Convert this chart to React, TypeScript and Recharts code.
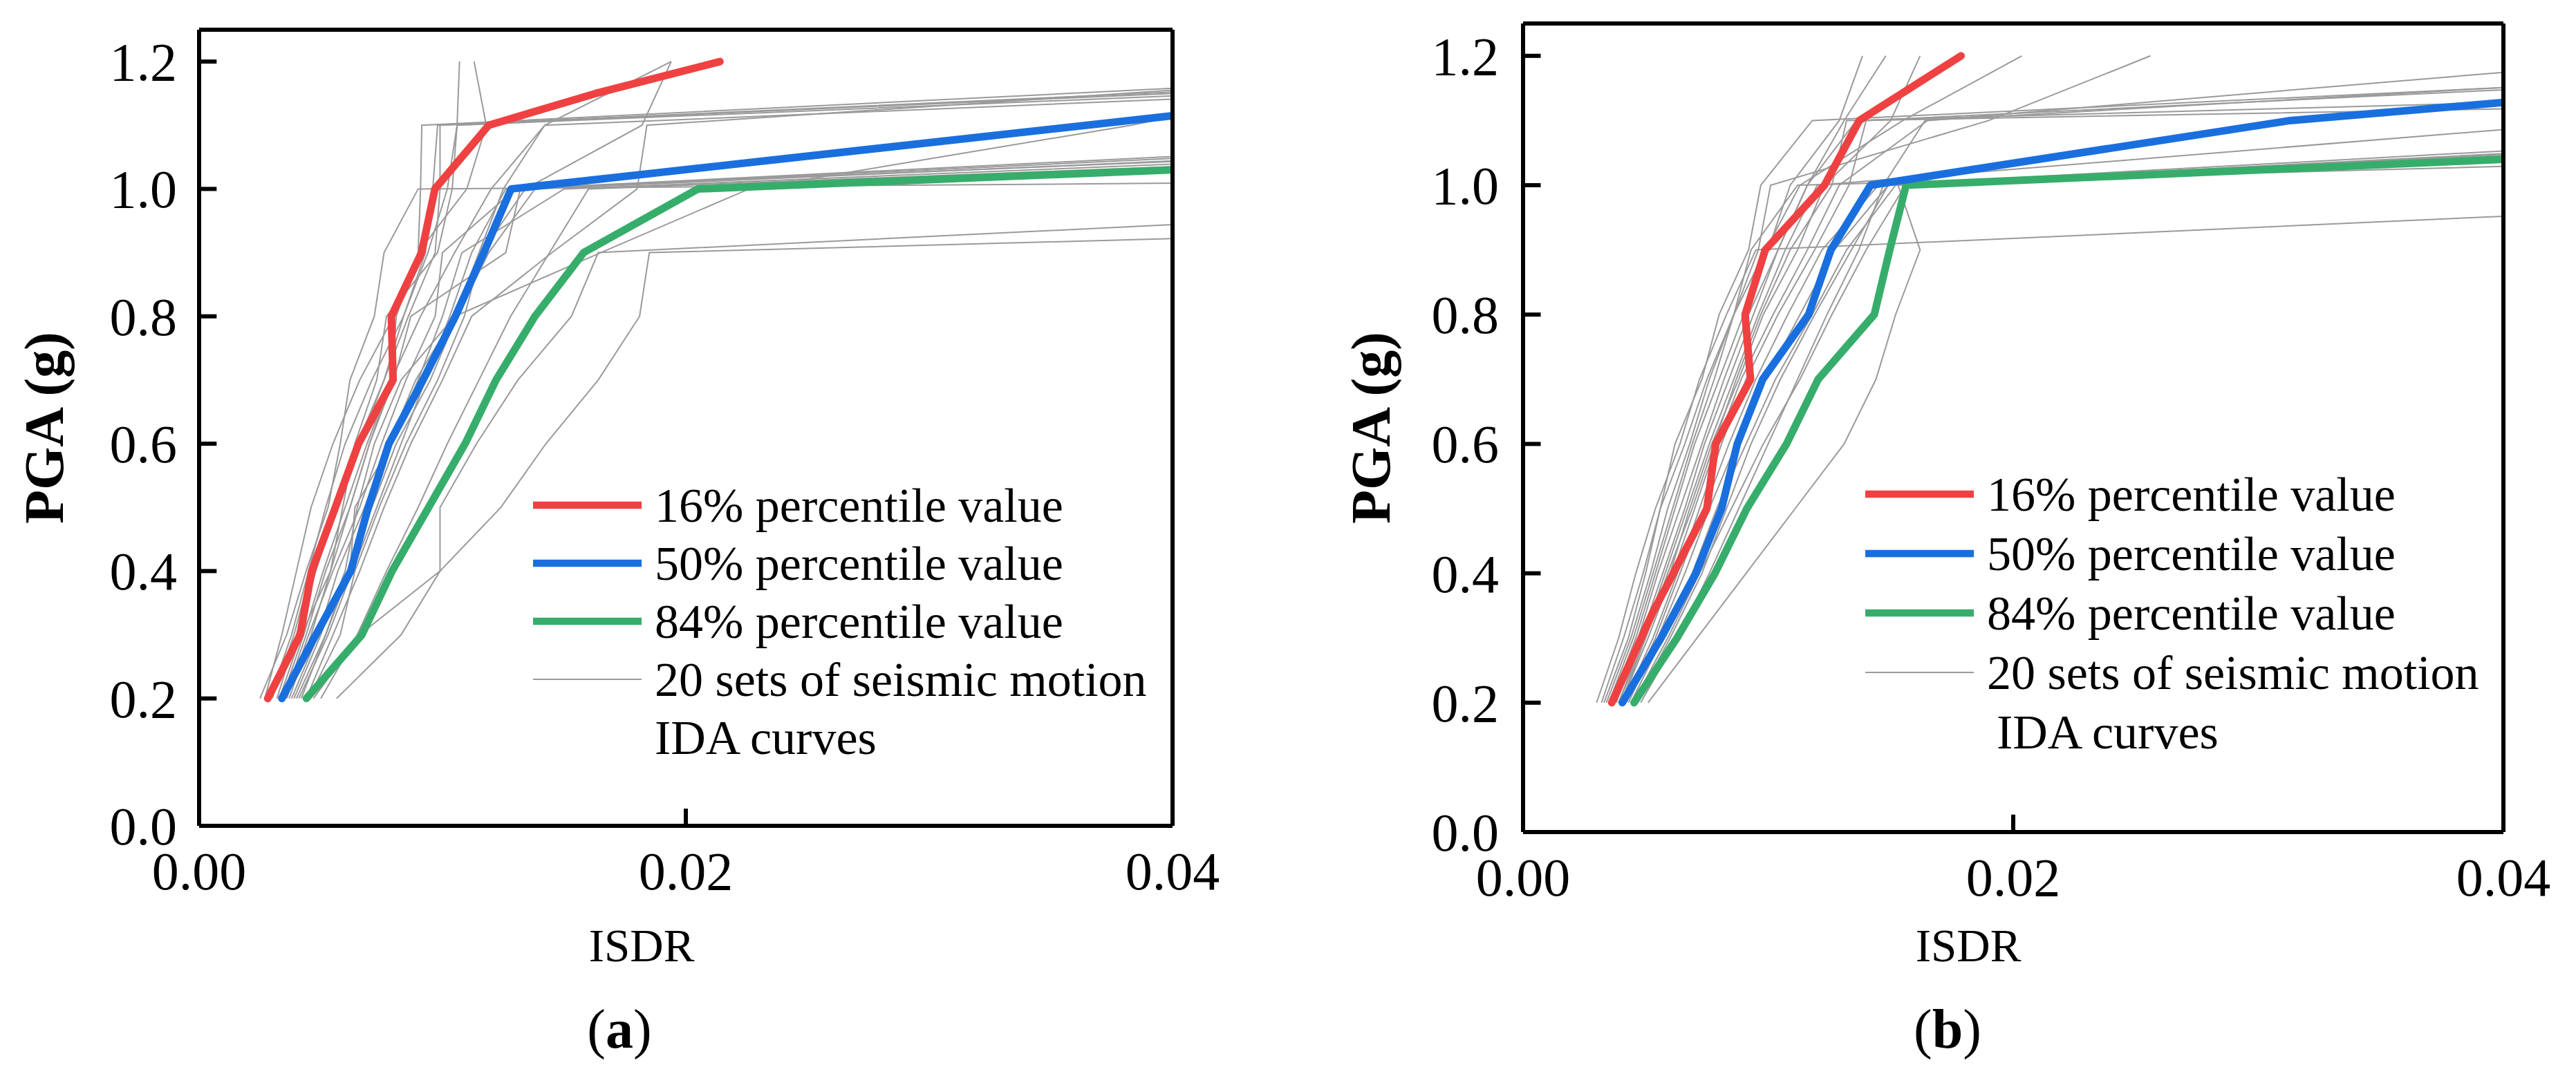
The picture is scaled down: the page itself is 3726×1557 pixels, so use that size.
import React from "react";
import { LineChart, Line, XAxis, YAxis, ReferenceLine } from "recharts";

const FONT = "'Liberation Serif'";

const RED = "#ef4141";
const BLUE = "#1a6fdf";
const GREEN = "#37ad6b";
const GRAY = "#9a9a9a";

// PGA levels of the IDA runs (g)
const PGA_LEVELS = [0.2, 0.3, 0.4, 0.5, 0.6, 0.7, 0.8, 0.9, 1.0, 1.1, 1.2];
const X_TICKS = [0, 0.02, 0.04];
const Y_TICKS = [0, 0.2, 0.4, 0.6, 0.8, 1.0, 1.2];
// tick marks drawn inside the frame (first/last x tick sit on the frame)
const X_INNER_TICKS = [0.02];
const Y_INNER_TICKS = [0.2, 0.4, 0.6, 0.8, 1.0, 1.2];

// ISDR values below are in per mille (‰)

// (a) percentile curves
const A_P16_X = [2.82, 4.15, 4.63, 5.6, 6.55, 7.97, 7.9, 9.14, 9.69, 11.9, 16.3, 21.4];
const A_P16_Y = [0.2, 0.3, 0.4, 0.5, 0.6, 0.7, 0.8, 0.9, 1.0, 1.1, 1.15, 1.2];
const A_P50_X = [3.4, 4.8, 6.23, 6.95, 7.8, 9.2, 10.53, 11.7, 12.82, 40];
const A_P50_Y = [0.2, 0.3, 0.4, 0.5, 0.6, 0.7, 0.8, 0.9, 1.0, 1.115];
const A_P84_X = [4.41, 6.69, 7.93, 9.43, 10.93, 12.2, 13.8, 15.8, 20.5, 40];
const A_P84_Y = [0.2, 0.3, 0.4, 0.5, 0.6, 0.7, 0.8, 0.9, 1.0, 1.03];

// (a) 20 IDA curves: ISDR at each PGA level, then PGA where the curve leaves the plot at 0.04
const GRAY_A_X = [
  [2.5, 3.6, 4.4, 5.3, 5.8, 6.2, 7.2, 7.6, 9.0],
  [2.7, 3.4, 4.0, 4.6, 5.5, 6.6, 8.0, 9.0, 9.1, 9.15],
  [3.0, 3.9, 4.6, 5.5, 6.5, 7.6, 8.6, 9.7, 9.9, 9.9],
  [3.3, 4.2, 5.4, 5.9, 6.4, 7.3, 7.7, 9.8, 10.4, 10.6, 10.7],
  [3.5, 4.4, 5.2, 6.2, 7.0, 7.9, 8.1, 9.0, 11.0, 11.8, 11.3],
  [3.6, 4.5, 5.5, 6.6, 7.5, 8.5, 9.7, 10.0, 13.0],
  [3.7, 4.6, 5.4, 6.2, 7.0, 8.0, 8.7, 12.6, 13.2],
  [3.9, 5.0, 6.0, 6.5, 7.2, 8.3, 10.5, 11.5, 12.5, 14.2, 19.4],
  [4.0, 5.2, 6.1, 7.1, 8.1, 9.5, 10.6, 11.9, 13.8],
  [4.2, 5.2, 6.2, 6.4, 7.9, 9.0, 10.0, 10.8, 15.0],
  [4.5, 5.8, 6.4, 7.4, 8.5, 9.8, 10.9, 11.6, 13.4, 18.2, 19.4],
  [4.7, 6.6, 9.9, 9.9, 11.4, 13.1, 15.3, 16.4],
  [5.65, 8.3, 9.9, 12.4, 14.25, 16.4, 18.1, 18.5],
  [3.2, 4.0, 4.8, 5.6, 6.6, 7.6, 8.4, 9.4, 10.2, 10.6],
  [3.4, 4.3, 5.1, 6.0, 6.9, 7.9, 9.1, 10.5, 12.0, 14.2],
  [4.4, 5.5, 6.6, 7.6, 8.7, 10.0, 11.2, 14.5, 18.0, 18.4],
  [3.8, 4.9, 5.7, 6.8, 7.8, 8.9, 10.5, 16.5, 22.6, 38.3],
  [2.9, 3.8, 4.5, 5.2, 6.0, 7.1, 8.4, 9.3, 9.6, 9.8],
  [4.1, 5.3, 6.3, 7.3, 8.3, 9.3, 10.3, 11.2, 12.6],
  [5.0, 6.5, 7.7, 9.0, 10.2, 11.5, 12.8, 14.4, 16.0],
];
const GRAY_A_TAIL = [
  1.009, 1.158, 1.15, null, null, 1.051, 1.048, null, 1.044, 1.039,
  null, 0.944, 0.922, 1.146, 1.141, 1.155, 1.113, 1.152, 1.043, 1.035,
];

// (b) percentile curves
const B_P16_X = [3.62, 5.3, 6.13, 7.5, 7.86, 9.28, 9.06, 9.88, 12.3, 13.72, 17.87];
const B_P16_Y = [0.2, 0.34, 0.4, 0.5, 0.6, 0.7, 0.8, 0.9, 1.0, 1.1, 1.2];
const B_P50_X = [4.05, 5.63, 7.05, 8.1, 8.74, 9.78, 11.65, 12.56, 14.18, 31.3, 40];
const B_P50_Y = [0.2, 0.3, 0.4, 0.5, 0.6, 0.7, 0.8, 0.9, 1.0, 1.1, 1.128];
const B_P84_X = [4.53, 6.28, 7.83, 9.13, 10.75, 12.04, 14.33, 14.96, 15.63, 40];
const B_P84_Y = [0.2, 0.3, 0.4, 0.5, 0.6, 0.7, 0.8, 0.9, 1.0, 1.04];

// (b) 20 IDA curves
const GRAY_B_X = [
  [3.0, 3.9, 4.6, 5.4, 6.4, 7.2, 8.3, 9.5],
  [3.3, 4.3, 5.0, 5.6, 6.2, 7.3, 8.0, 9.2, 9.7, 11.8],
  [3.4, 4.4, 5.2, 5.9, 6.8, 7.6, 8.6, 9.3, 11.2],
  [3.6, 4.6, 5.4, 6.2, 7.0, 8.0, 9.0, 10.0, 10.9, 12.9, 13.85],
  [3.8, 4.8, 5.7, 6.6, 7.4, 8.4, 9.4, 10.4, 11.6, 13.1, 14.8],
  [3.9, 5.0, 6.0, 6.8, 7.7, 8.8, 9.8, 11.2, 12.3, 15.0, 16.2],
  [4.0, 5.1, 6.1, 7.0, 7.9, 8.9, 10.2, 11.6, 12.9, 16.5],
  [4.1, 5.3, 6.3, 7.2, 8.1, 9.1, 10.4, 11.9, 13.3, 14.0],
  [4.2, 5.4, 6.4, 7.4, 8.4, 9.5, 10.8, 12.2, 14.5],
  [4.3, 5.5, 6.6, 7.6, 8.7, 9.9, 11.3, 12.7, 14.9],
  [4.4, 5.7, 6.9, 7.9, 9.1, 10.3, 11.8, 13.2, 15.2],
  [4.5, 5.9, 7.2, 8.5, 9.8, 11.3, 12.6, 14.0, 15.6],
  [5.1, 7.1, 9.1, 11.1, 13.1, 14.4, 15.2, 16.2, 15.3],
  [3.2, 4.1, 4.9, 5.6, 6.6, 7.5, 8.6, 9.6, 10.1, 19.0, 25.6],
  [3.5, 4.5, 5.3, 6.1, 6.9, 7.8, 8.6, 9.9, 11.3, 15.5, 20.35],
  [3.7, 4.7, 5.5, 6.4, 7.3, 8.2, 9.2, 10.4, 11.6, 13.6],
  [3.9, 4.9, 5.8, 6.7, 7.6, 8.6, 9.6, 10.7, 12.0],
  [4.0, 5.0, 5.9, 6.9, 7.8, 8.7, 9.7, 10.9, 12.6, 13.2],
  [4.6, 6.0, 7.3, 8.3, 9.3, 10.5, 11.9, 13.4, 14.9],
  [4.8, 6.3, 7.6, 8.8, 10.0, 11.2, 12.4, 13.7, 14.7, 16.4],
];
const GRAY_B_TAIL = [
  0.952, 1.151, 1.029, null, null, null, 1.1745, 1.1475, 1.053, 1.049,
  1.044, 1.042, 1.04, null, null, 1.118, 1.086, 1.128, 1.047, 1.151,
];

const LEGEND_LABELS = [
  "16% percentile value",
  "50% percentile value",
  "84% percentile value",
  "20 sets of seismic motion",
];
const LEGEND_COLORS = [RED, BLUE, GREEN, GRAY];

type Pt = { x: number; y: number };

const toPoints = (xs: number[], ys: number[]): Pt[] =>
  xs.map((v, i) => ({ x: v / 1000, y: ys[i] }));

const grayPoints = (xs: number[], tail: number | null): Pt[] => {
  const pts = xs.map((v, i) => ({ x: v / 1000, y: PGA_LEVELS[i] }));
  if (tail !== null) pts.push({ x: 0.04, y: tail });
  return pts;
};

const AXIS_LINE = { stroke: "#000", strokeWidth: 6 };
// inward tick length expressed in axis units (~25 px)
const TICK_LEN_X = 0.00072;
const TICK_LEN_Y = 0.027;

const XTick = (props: any) => {
  const { x, y, payload } = props;
  return (
    <text x={x} y={y + 92} textAnchor="middle" fontSize={78} fill="#000" fontFamily={FONT}>
      {Number(payload.value).toFixed(2)}
    </text>
  );
};

const yTickBody = (props: any, gap: number) => {
  const { x, y, payload } = props;
  return (
    <text x={x - gap} y={y + 27} textAnchor="end" fontSize={78} fill="#000" fontFamily={FONT}>
      {Number(payload.value).toFixed(1)}
    </text>
  );
};
const YTickA = (props: any) => yTickBody(props, 32);
const YTickB = (props: any) => yTickBody(props, 35);

interface PanelProps {
  left: number;
  width: number;
  margin: { top: number; right: number; bottom: number; left: number };
  yAxisWidth: number;
  yTick: (props: any) => React.ReactElement;
  yLabelX: number;
  isdrX: number;
  captionX: number;
  letter: string;
  legendLeft: number;
  legendTop: number;
  legendGap: number;
  idaIndent: number;
  grayX: number[][];
  grayTail: (number | null)[];
  p16: Pt[];
  p50: Pt[];
  p84: Pt[];
}

const HEIGHT = 1557;
const X_AXIS_H = 300;
const ISDR_BASE = 1391;
const CAPTION_BASE = 1516;

function Panel(p: PanelProps) {
  const plotMidY = (p.margin.top + (HEIGHT - p.margin.bottom - X_AXIS_H)) / 2;
  return (
    <div style={{ position: "absolute", left: p.left, top: 0, width: p.width, height: HEIGHT }}>
      <LineChart width={p.width} height={HEIGHT} margin={p.margin}>
        <XAxis
          xAxisId="x"
          type="number"
          dataKey="x"
          domain={[0, 0.04]}
          ticks={X_TICKS}
          allowDataOverflow
          axisLine={AXIS_LINE}
          tickLine={false}
          tickSize={0}
          tickMargin={0}
          height={X_AXIS_H}
          tick={XTick}
        />
        <YAxis
          yAxisId="y"
          type="number"
          domain={[0, 1.25]}
          ticks={Y_TICKS}
          allowDataOverflow
          axisLine={AXIS_LINE}
          tickLine={false}
          tickSize={0}
          tickMargin={0}
          width={p.yAxisWidth}
          tick={p.yTick}
        />
        {p.grayX.map((xs, i) => (
          <Line
            key={`g${i}`}
            xAxisId="x"
            yAxisId="y"
            data={grayPoints(xs, p.grayTail[i])}
            dataKey="y"
            type="linear"
            stroke={GRAY}
            strokeWidth={2}
            dot={false}
            activeDot={false}
            isAnimationActive={false}
          />
        ))}
        {[
          { d: p.p84, c: GREEN },
          { d: p.p50, c: BLUE },
          { d: p.p16, c: RED },
        ].map((s, i) => (
          <Line
            key={`p${i}`}
            xAxisId="x"
            yAxisId="y"
            data={s.d}
            dataKey="y"
            type="linear"
            stroke={s.c}
            strokeWidth={11}
            strokeLinecap="round"
            strokeLinejoin="round"
            dot={false}
            activeDot={false}
            isAnimationActive={false}
          />
        ))}
        {/* inward tick marks */}
        {Y_INNER_TICKS.map((v) => (
          <ReferenceLine
            key={`yt${v}`}
            xAxisId="x"
            yAxisId="y"
            segment={[{ x: 0, y: v }, { x: TICK_LEN_X, y: v }]}
            stroke="#000"
            strokeWidth={6}
          />
        ))}
        {X_INNER_TICKS.map((v) => (
          <ReferenceLine
            key={`xt${v}`}
            xAxisId="x"
            yAxisId="y"
            segment={[{ x: v, y: 0 }, { x: v, y: TICK_LEN_Y }]}
            stroke="#000"
            strokeWidth={6}
          />
        ))}
        {/* top and right edges of the frame */}
        <ReferenceLine xAxisId="x" yAxisId="y" y={1.25} stroke="#000" strokeWidth={6} />
        <ReferenceLine xAxisId="x" yAxisId="y" x={0.04} stroke="#000" strokeWidth={6} />
      </LineChart>

      {/* axis titles, caption and legend */}
      <svg
        width={p.width}
        height={HEIGHT}
        style={{ position: "absolute", left: 0, top: 0, pointerEvents: "none" }}
      >
        <text
          x={p.yLabelX}
          y={plotMidY}
          transform={`rotate(-90, ${p.yLabelX}, ${plotMidY})`}
          textAnchor="middle"
          dominantBaseline="central"
          fontSize={80}
          fontWeight="bold"
          fill="#000"
          fontFamily={FONT}
        >
          PGA (g)
        </text>
        <text x={p.isdrX} y={ISDR_BASE} textAnchor="middle" fontSize={67} fill="#000" fontFamily={FONT}>
          ISDR
        </text>
        <text x={p.captionX} y={CAPTION_BASE} textAnchor="middle" fontSize={80} fill="#000" fontFamily={FONT}>
          <tspan>(</tspan>
          <tspan fontWeight="bold">{p.letter}</tspan>
          <tspan>)</tspan>
        </text>
        {LEGEND_LABELS.map((label, i) => {
          const cy = p.legendTop + i * p.legendGap;
          return (
            <g key={label}>
              <line
                x1={p.legendLeft}
                x2={p.legendLeft + 157}
                y1={cy}
                y2={cy}
                stroke={LEGEND_COLORS[i]}
                strokeWidth={i === 3 ? 2 : 10.5}
              />
              <text x={p.legendLeft + 176} y={cy + 24} fontSize={70} fill="#000" fontFamily={FONT}>
                {label}
              </text>
            </g>
          );
        })}
        <text
          x={p.legendLeft + 176 + p.idaIndent}
          y={p.legendTop + 4 * p.legendGap + 24}
          fontSize={70}
          fill="#000"
          fontFamily={FONT}
        >
          IDA curves
        </text>
      </svg>
    </div>
  );
}

export default function App() {
  return (
    <div
      style={{
        position: "absolute",
        left: 0,
        top: 0,
        width: 3726,
        height: 1557,
        background: "#fff",
        overflow: "hidden",
      }}
    >
      <Panel
        left={0}
        width={1800}
        margin={{ top: 43, right: 104, bottom: 62, left: 0 }}
        yAxisWidth={288}
        yTick={YTickA}
        yLabelX={64}
        isdrX={928}
        captionX={896}
        letter="a"
        legendLeft={771}
        legendTop={731}
        legendGap={84}
        idaIndent={0}
        grayX={GRAY_A_X}
        grayTail={GRAY_A_TAIL}
        p16={toPoints(A_P16_X, A_P16_Y)}
        p50={toPoints(A_P50_X, A_P50_Y)}
        p84={toPoints(A_P84_X, A_P84_Y)}
      />
      <Panel
        left={1863}
        width={1863}
        margin={{ top: 34, right: 105, bottom: 53, left: 0 }}
        yAxisWidth={340}
        yTick={YTickB}
        yLabelX={120}
        isdrX={984}
        captionX={954}
        letter="b"
        legendLeft={835}
        legendTop={715}
        legendGap={86}
        idaIndent={14}
        grayX={GRAY_B_X}
        grayTail={GRAY_B_TAIL}
        p16={toPoints(B_P16_X, B_P16_Y)}
        p50={toPoints(B_P50_X, B_P50_Y)}
        p84={toPoints(B_P84_X, B_P84_Y)}
      />
    </div>
  );
}
